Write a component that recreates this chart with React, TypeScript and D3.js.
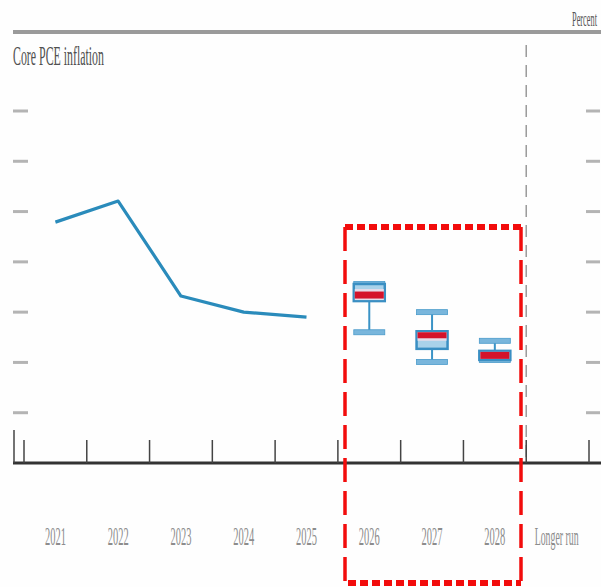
import React, { useEffect, useRef } from "react";
import * as d3 from "d3";

const categories = ["2021", "2022", "2023", "2024", "2025", "2026", "2027", "2028", "Longer run"];
const historyYears = ["2021", "2022", "2023", "2024", "2025"];
const historyValues = [4.79, 5.21, 3.32, 3.0, 2.9];
const projYears = ["2026", "2027", "2028"];
const rangeLow = [2.6, 2.01, 2.05];
const rangeHigh = [3.56, 3.0, 2.43];
const ctLow = [3.22, 2.27, 2.05];
const ctHigh = [3.56, 2.62, 2.23];
const medians = [3.34, 2.55, 2.14];
const yTicks = [1, 2, 3, 4, 5, 6, 7];

const W = 601;
const H = 587;

export default function App() {
  const ref = useRef<SVGSVGElement>(null);
  useEffect(() => {
    const svg = d3.select(ref.current);
    svg.selectAll("*").remove();
    const x = d3.scaleBand<string>().domain(categories).range([24, 589]).padding(0);
    const y = d3.scaleLinear().domain([0, 7]).range([463, 111]);
    const cx = (c: string) => (x(c) as number) + x.bandwidth() / 2;
    const serif = "'Liberation Serif', 'DejaVu Serif', serif";

    // condensed text: measure natural width, then squeeze horizontally
    const condText = (
      txt: string, px: number, py: number, size: number, width: number,
      fill: string, anchor: "start" | "middle" | "end"
    ) => {
      const g = svg.append("g");
      const t = g.append("text").text(txt).attr("font-family", serif).attr("font-size", size)
        .attr("fill", fill).attr("text-anchor", anchor);
      const nat = (t.node() as SVGTextElement).getComputedTextLength() || width;
      g.attr("transform", `translate(${px},${py}) scale(${width / nat},1)`);
    };

    svg.append("rect").attr("width", W).attr("height", H).attr("fill", "#fefefe");

    // top rule
    svg.append("line").attr("x1", 13).attr("x2", W).attr("y1", 32).attr("y2", 32)
      .attr("stroke", "#9a9a9a").attr("stroke-width", 4);
    condText("Percent", 572, 26, 21, 25, "#555", "start");
    condText("Core PCE inflation", 13, 65, 27, 91, "#505050", "start");

    // y ticks (short dashes left and right)
    const tg = svg.append("g");
    tg.selectAll("line.l").data(yTicks).join("line").attr("class", "l")
      .attr("x1", 13).attr("x2", 28).attr("y1", (d) => y(d)).attr("y2", (d) => y(d))
      .attr("stroke", "#b4b4b4").attr("stroke-width", 3);
    tg.selectAll("line.r").data(yTicks).join("line").attr("class", "r")
      .attr("x1", 586).attr("x2", 600).attr("y1", (d) => y(d)).attr("y2", (d) => y(d))
      .attr("stroke", "#b4b4b4").attr("stroke-width", 3);

    // longer run separator
    const sepX = x("Longer run") as number;
    svg.append("line").attr("x1", sepX).attr("x2", sepX).attr("y1", 45).attr("y2", 463)
      .attr("stroke", "#9a9a9a").attr("stroke-width", 1.5).attr("stroke-dasharray", "12 8");

    // x axis
    svg.append("line").attr("x1", 13).attr("x2", W).attr("y1", 463).attr("y2", 463)
      .attr("stroke", "#333").attr("stroke-width", 3);
    svg.append("line").attr("x1", 14).attr("x2", 14).attr("y1", 430).attr("y2", 463)
      .attr("stroke", "#444").attr("stroke-width", 1.5);
    const bounds = categories.map((c) => x(c) as number).concat([x.range()[1]]);
    svg.selectAll("line.xt").data(bounds).join("line").attr("class", "xt")
      .attr("x1", (d) => d).attr("x2", (d) => d).attr("y1", 440).attr("y2", 463)
      .attr("stroke", "#444").attr("stroke-width", 1.5);
    categories.forEach((c) => {
      condText(c, cx(c) - (c === "Longer run" ? 1 : 0), 545, 26, c === "Longer run" ? 44 : 21, "#8c8c8c", "middle");
    });

    // history line
    const line = d3.line<number>().x((_, i) => cx(historyYears[i])).y((d) => y(d));
    svg.append("path").attr("d", line(historyValues)).attr("fill", "none")
      .attr("stroke", "#2a8bbb").attr("stroke-width", 3.2).attr("stroke-linejoin", "round");

    // projections
    const bw = 31;
    projYears.forEach((yr, i) => {
      const c = cx(yr);
      const g = svg.append("g");
      g.append("line").attr("x1", c).attr("x2", c).attr("y1", y(rangeLow[i])).attr("y2", y(rangeHigh[i]))
        .attr("stroke", "#3a93c6").attr("stroke-width", 2);
      [rangeLow[i], rangeHigh[i]].forEach((v) => {
        g.append("rect").attr("x", c - bw / 2).attr("y", y(v) - 2.5).attr("width", bw).attr("height", 5)
          .attr("fill", "#79b6dc").attr("stroke", "#4a9bcb").attr("stroke-width", 0.8);
      });
      const top = y(ctHigh[i]);
      const bot = y(ctLow[i]);
      g.append("rect").attr("x", c - bw / 2).attr("y", top).attr("width", bw).attr("height", bot - top)
        .attr("fill", "#a9d2ea").attr("stroke", "#3a8fc3").attr("stroke-width", 2.5);
      const m = y(medians[i]);
      const mt = Math.max(top + 1, m - 3.5);
      const mb = Math.min(bot - 1, m + 3.5);
      g.append("rect").attr("x", c - bw / 2 + 1).attr("y", Math.max(top + 1, mt - 2.5)).attr("width", bw - 2)
        .attr("height", Math.min(bot - 1, mb + 2.5) - Math.max(top + 1, mt - 2.5)).attr("fill", "#e6dcea");
      g.append("rect").attr("x", c - bw / 2 + 1).attr("y", mt).attr("width", bw - 2).attr("height", mb - mt)
        .attr("fill", "#d4132b");
    });

    // red dashed highlight box
    const rl = 345, rr = 521, rt = 227, rb = 583;
    const red = "#f20c0c";
    svg.append("line").attr("x1", rl).attr("x2", rr).attr("y1", rt).attr("y2", rt)
      .attr("stroke", red).attr("stroke-width", 6).attr("stroke-dasharray", "8 4");
    svg.append("line").attr("x1", rl + 3).attr("x2", rr).attr("y1", rb).attr("y2", rb)
      .attr("stroke", red).attr("stroke-width", 6).attr("stroke-dasharray", "8 4");
    svg.append("line").attr("x1", rl).attr("x2", rl).attr("y1", rt).attr("y2", rb + 3)
      .attr("stroke", red).attr("stroke-width", 3.5).attr("stroke-dasharray", "24 9");
    svg.append("line").attr("x1", rr).attr("x2", rr).attr("y1", rt).attr("y2", rb + 3)
      .attr("stroke", red).attr("stroke-width", 3.5).attr("stroke-dasharray", "24 9");
  }, []);
  return (
    <svg ref={ref} width={W} height={H} style={{ position: "absolute", left: 0, top: 0, background: "#fff" }} />
  );
}
